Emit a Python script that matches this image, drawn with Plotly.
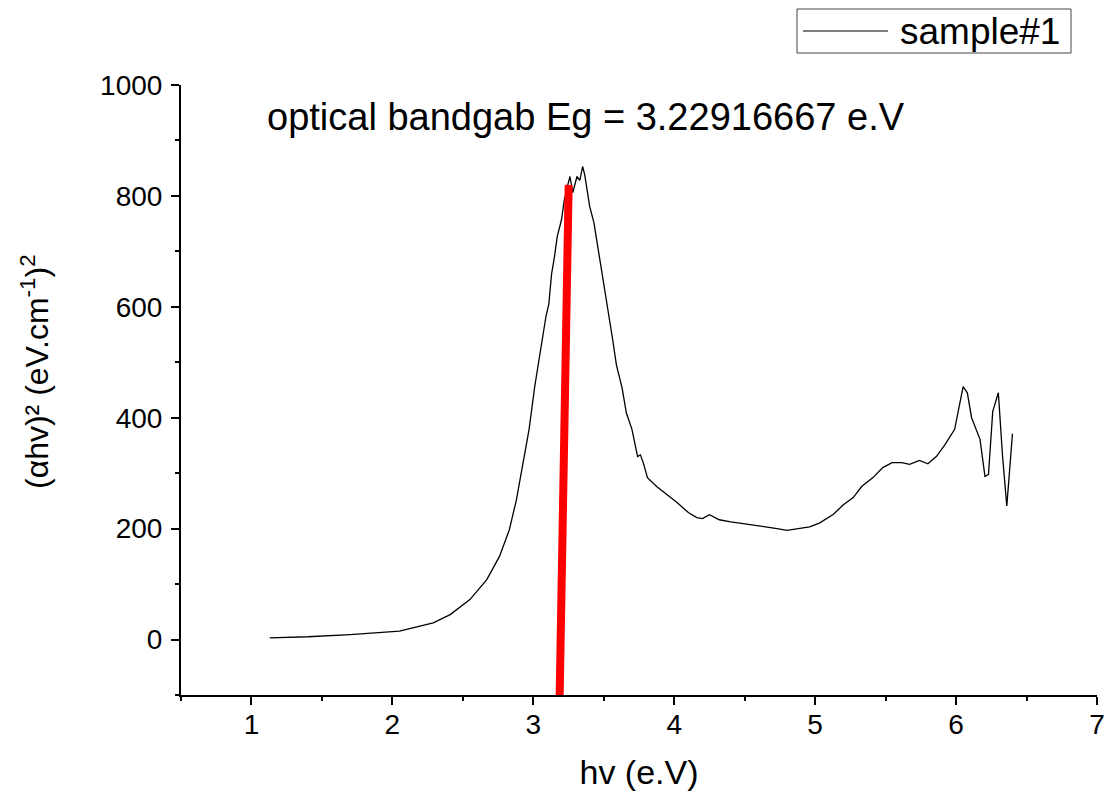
import plotly.graph_objects as go

# traced spectrum (hv in eV, (ahv)^2)
hv = [1.13, 1.40, 1.70, 2.05, 2.29, 2.41, 2.55, 2.67, 2.76, 2.83, 2.88, 2.92, 2.97,
      3.01, 3.045, 3.09, 3.11, 3.13, 3.15, 3.17, 3.20, 3.22, 3.24, 3.26, 3.28, 3.31,
      3.33, 3.35, 3.365, 3.38, 3.40, 3.43, 3.45, 3.485, 3.52, 3.56, 3.59, 3.63, 3.66,
      3.70, 3.74, 3.76, 3.78, 3.81, 3.875, 3.95, 4.02, 4.10, 4.16, 4.20, 4.25, 4.32,
      4.40, 4.49, 4.58, 4.66, 4.73, 4.80, 4.89, 4.96, 5.03, 5.13, 5.20, 5.27, 5.33,
      5.41, 5.48, 5.545, 5.615, 5.67, 5.74, 5.80, 5.86, 5.92, 5.99, 6.05, 6.08, 6.11,
      6.17, 6.205, 6.23, 6.26, 6.30, 6.33, 6.36, 6.40]
ahv2 = [3, 5, 9, 15, 30, 45, 72, 108, 150, 198, 252, 306, 379,
        456, 515, 583, 605, 660, 690, 727, 757, 793, 815, 835, 806, 835,
        828, 853, 838, 815, 781, 752, 721, 667, 608, 546, 495, 454, 409,
        379, 330, 333, 319, 292, 276, 261, 247, 229, 220, 218, 225, 216,
        212, 209, 206, 202, 200, 197, 200, 203, 210, 226, 243, 256, 276,
        292, 310, 319, 319, 316, 323, 317, 330, 351, 379, 456, 445, 400,
        361, 294, 298, 411, 445, 330, 241, 371]

# tangent fit line for the band gap
fit_x = [3.187, 3.251]
fit_y = [-100, 820]

font = "Liberation Sans, Arial, sans-serif"

fig = go.Figure()
fig.add_trace(go.Scatter(x=hv, y=ahv2, mode="lines", name="sample#1",
                         line=dict(color="black", width=1.3), showlegend=False))
fig.add_trace(go.Scatter(x=fit_x, y=fit_y, mode="lines", showlegend=False,
                         line=dict(color="#ff0000", width=8)))

# legend box drawn by hand (Origin style); paper fractions of the 916x610 plot area
fig.add_shape(type="rect", xref="paper", yref="paper",
              x0=(797 - 181) / 916, x1=(1071 - 181) / 916,
              y0=(695 - 53) / 610, y1=(695 - 9) / 610,
              line=dict(color="#444", width=1))
fig.add_shape(type="line", xref="paper", yref="paper",
              x0=(803 - 181) / 916, x1=(888 - 181) / 916,
              y0=(695 - 31) / 610, y1=(695 - 31) / 610,
              line=dict(color="black", width=1))
fig.add_annotation(text="sample#1", xref="paper", yref="paper",
                   x=(898 - 181) / 916, y=(695 - 32) / 610,
                   xanchor="left", yanchor="middle", showarrow=False,
                   font=dict(family=font, size=37, color="black"))

fig.add_annotation(text="optical bandgab Eg = 3.22916667 e.V", xref="paper", yref="paper",
                   x=(265 - 181) / 916, y=(695 - 117) / 610,
                   xanchor="left", yanchor="middle", showarrow=False,
                   font=dict(family=font, size=38, color="black"))

# y title placed by hand, a little above the plot centre as in Origin
fig.add_annotation(text="(αhv)² (eV.cm<sup>-1</sup>)<sup>2</sup>", xref="paper", yref="paper",
                   x=(35 - 181) / 916, y=(695 - 372) / 610, textangle=-90,
                   xanchor="center", yanchor="middle", showarrow=False,
                   font=dict(family=font, size=32, color="black"))

fig.update_layout(
    width=1105, height=792,
    margin=dict(l=181, r=8, t=85, b=97),
    plot_bgcolor="white", paper_bgcolor="white",
    font=dict(family=font, color="black"),
    showlegend=False,
)
fig.update_xaxes(
    range=[0.5, 7], dtick=1, tick0=0, showgrid=False, zeroline=False,
    showline=True, linecolor="black", linewidth=2, automargin=False,
    ticks="outside", ticklen=8, tickwidth=2, tickcolor="black",
    minor=dict(dtick=0.5, tick0=0.5, ticks="outside", ticklen=4, tickwidth=2, tickcolor="black"),
    tickfont=dict(size=28), ticklabelstandoff=-5,
    title=dict(text="hv (e.V)", font=dict(size=34), standoff=22),
)
fig.update_yaxes(
    range=[-100, 1000], dtick=200, tick0=0, showgrid=False, zeroline=False,
    showline=True, linecolor="black", linewidth=2, automargin=False,
    ticks="outside", ticklen=8, tickwidth=2, tickcolor="black",
    minor=dict(dtick=100, ticks="outside", ticklen=4, tickwidth=2, tickcolor="black"),
    tickfont=dict(size=28), ticklabelstandoff=3,
)

# drop the browser's default body margin so the figure fills the window exactly
fig.write_html("out.html", config={"displayModeBar": False},
               post_script="document.body.style.margin='0';")
